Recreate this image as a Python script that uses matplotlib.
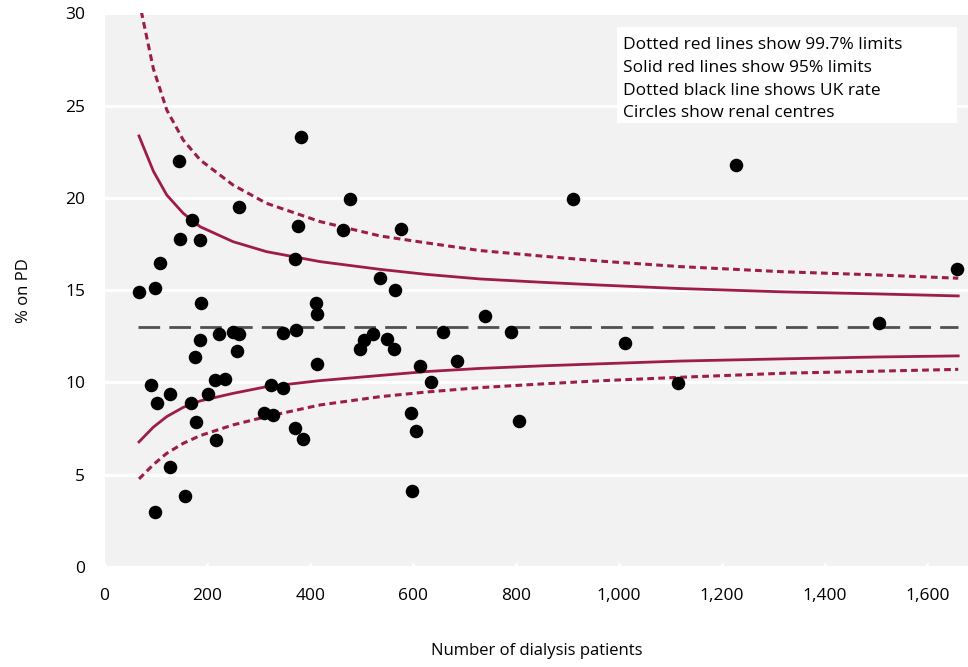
import matplotlib
matplotlib.use("Agg")
import matplotlib.pyplot as plt
from matplotlib.patches import Rectangle
from matplotlib.ticker import FuncFormatter, MultipleLocator

plt.rcParams['font.family'] = ['Open Sans', 'DejaVu Sans']

# renal centres: number of dialysis patients and % on PD
centre_n = [381.5, 144.9, 261.5, 376.8, 170.7, 146.8, 185.7, 370.4, 108.5, 98.8,
            67.1, 188.2, 411.2, 413.8, 185.7, 222.0, 249.3, 262.1, 346.5, 371.8,
            176.0, 257.0, 413.8, 90.4, 101.5, 127.4, 168.2, 200.7, 215.4, 234.9,
            177.9, 216.8, 323.2, 347.5, 309.2, 327.6, 370.4, 386.6, 127.4, 155.9,
            98.8, 476.8, 464.3, 577.1, 535.1, 564.8, 521.5, 504.6, 496.8, 548.7,
            563.5, 658.2, 612.9, 686.0, 634.3, 596.5, 605.7, 739.3, 790.4, 805.4,
            597.9, 911.5, 1011.5, 1116.0, 1227.3, 1658.2, 1506.5]
centre_pd = [23.3, 22.0, 19.5, 18.5, 18.8, 17.8, 17.7, 16.7, 16.5, 15.1,
             14.9, 14.3, 14.3, 13.7, 12.3, 12.6, 12.75, 12.6, 12.7, 12.85,
             11.4, 11.7, 11.0, 9.85, 8.9, 9.35, 8.9, 9.4, 10.15, 10.2,
             7.85, 6.9, 9.85, 9.72, 8.34, 8.23, 7.53, 6.93, 5.42, 3.83,
             2.98, 19.93, 18.27, 18.3, 15.68, 15.0, 12.61, 12.3, 11.83, 12.36,
             11.83, 12.71, 10.87, 11.19, 10.03, 8.33, 7.39, 13.62, 12.74, 7.91,
             4.14, 19.93, 12.14, 9.99, 21.79, 16.13, 13.24]

uk_rate = 13.0

# funnel limits
limit_n = [67, 95, 121, 153, 186, 250, 315, 419, 536, 625, 730, 850, 963, 1119,
           1320, 1500, 1660]
upper_95 = [23.36, 21.45, 20.16, 19.17, 18.44, 17.63, 17.09, 16.55, 16.13, 15.86,
            15.61, 15.43, 15.28, 15.09, 14.91, 14.80, 14.69]
lower_95 = [6.78, 7.58, 8.15, 8.65, 9.0, 9.41, 9.77, 10.1, 10.38, 10.59,
            10.76, 10.90, 11.01, 11.16, 11.28, 11.38, 11.44]
upper_997 = [30.7, 27.0, 24.77, 23.14, 22.06, 20.7, 19.71, 18.72, 17.94, 17.57,
             17.15, 16.85, 16.58, 16.28, 16.0, 15.83, 15.65]
lower_997 = [4.77, 5.55, 6.16, 6.7, 7.12, 7.7, 8.15, 8.78, 9.23, 9.48,
             9.72, 9.92, 10.09, 10.28, 10.5, 10.61, 10.71]

notes = ['Dotted red lines show 99.7% limits',
         'Solid red lines show 95% limits',
         'Dotted black line shows UK rate',
         'Circles show renal centres']

red = '#9e1c4b'

fig = plt.figure(figsize=(9.68, 6.67), dpi=100)
ax = fig.add_axes([0.108, 0.15, 0.892, 0.8298])
ax.set_facecolor('#f2f2f2')
for s in ax.spines.values():
    s.set_visible(False)

ax.set_xlim(0, 1679)
ax.set_ylim(0, 30)
ax.yaxis.set_major_locator(MultipleLocator(5))
ax.xaxis.set_major_locator(MultipleLocator(200))
ax.xaxis.set_major_formatter(FuncFormatter(lambda v, p: f'{int(v):,}'))
ax.grid(axis='y', color='white', linewidth=2.2)
ax.set_axisbelow(True)
ax.tick_params(axis='y', length=0, pad=14, labelsize=12.5)
ax.tick_params(axis='x', direction='in', length=3, width=2, color='white',
               pad=15, labelsize=12.5)

# limits and UK rate
ax.plot(limit_n, upper_997, color=red, lw=2.2, dashes=(2.2, 1.4), zorder=3)
ax.plot(limit_n, lower_997, color=red, lw=2.2, dashes=(2.2, 1.4), zorder=3)
ax.plot(limit_n, upper_95, color=red, lw=2.0, zorder=3)
ax.plot(limit_n, lower_95, color=red, lw=2.0, zorder=3)
ax.plot([limit_n[0] - 1, limit_n[-1]], [uk_rate, uk_rate], color='#505050',
        lw=2.0, dashes=(7.8, 3.3), zorder=3)

ax.scatter(centre_n, centre_pd, s=95, color='black', zorder=4, linewidths=0)

# note box
ax.add_patch(Rectangle((0.5932, 0.8027), 0.3937, 0.1724, transform=ax.transAxes,
                       facecolor='white', edgecolor='none', zorder=5))
for txt, yy in zip(notes, [0.9359, 0.8934, 0.8518, 0.8121]):
    ax.text(0.6008, yy, txt, transform=ax.transAxes, fontsize=12.5,
            va='baseline', ha='left', zorder=6)

ax.set_xlabel('Number of dialysis patients', fontsize=12, labelpad=28)
ax.set_ylabel('% on PD', fontsize=12, labelpad=24)

fig.savefig('out.png', dpi=100)
